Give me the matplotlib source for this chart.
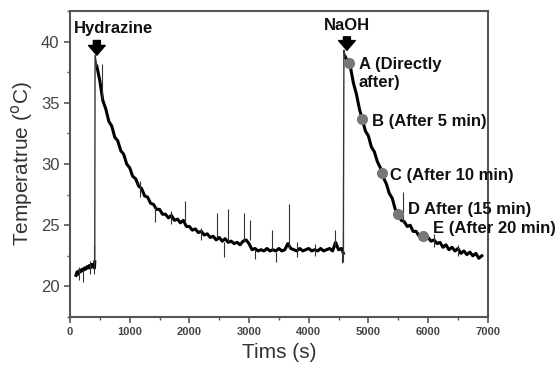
import matplotlib

matplotlib.use("Agg")
import matplotlib.pyplot as plt
from matplotlib.ticker import MultipleLocator

# baseline before hydrazine
t_pre = [100, 120, 140, 160, 180, 200, 220, 240, 260, 280, 300, 320, 340, 360, 380, 400, 410, 415]
T_pre = [20.9, 21.2, 21.0, 21.3, 21.2, 21.4, 21.3, 21.5, 21.4, 21.6, 21.5, 21.7, 21.5, 21.8, 21.6, 21.8, 21.5, 22.0]

# decay after hydrazine
t_hyd = [450, 500, 550, 600, 650, 700, 750, 800, 850, 900, 950, 1000, 1050, 1100, 1150, 1200,
         1250, 1300, 1350, 1400, 1450, 1500, 1550, 1600, 1650, 1700, 1750, 1800, 1850, 1900,
         1950, 2000, 2050, 2100, 2150, 2200, 2250, 2300, 2350, 2400, 2450, 2500, 2550, 2600,
         2650, 2700, 2750, 2800, 2850, 2900, 2950, 3000, 3050, 3100, 3150, 3200, 3250, 3300,
         3350, 3400, 3450, 3500, 3550, 3600, 3650, 3700, 3750, 3800, 3850, 3900, 3950, 4000,
         4050, 4100, 4150, 4200, 4250, 4300, 4350, 4400, 4450, 4500, 4550, 4580]
T_hyd = [38.0, 36.8, 35.2, 34.5, 33.5, 33.1, 32.2, 31.9, 31.1, 30.8, 30.0, 29.7, 29.0, 28.8, 28.2, 28.0,
         27.4, 27.3, 26.8, 26.7, 26.3, 26.3, 25.9, 25.9, 25.6, 25.8, 25.4, 25.5, 25.2, 25.4,
         24.9, 24.9, 24.6, 24.7, 24.4, 24.5, 24.2, 24.3, 24.0, 24.1, 23.8, 24.0, 23.7, 23.9,
         23.6, 23.7, 23.5, 23.6, 23.4, 23.7, 23.8, 23.5, 23.0, 23.1, 22.9, 23.0, 22.9, 23.1,
         22.9, 23.0, 22.9, 23.1, 22.9, 23.0, 23.5, 23.1, 23.0, 22.9, 23.1, 22.9, 23.0, 23.1,
         22.9, 23.0, 22.9, 23.1, 22.9, 23.0, 23.1, 22.9, 23.6, 23.0, 23.1, 22.7]

# decay after NaOH
t_naoh = [4610, 4650, 4700, 4750, 4800, 4850, 4900, 4950, 5000, 5050, 5100, 5150, 5200, 5250,
          5300, 5350, 5400, 5450, 5500, 5550, 5600, 5650, 5700, 5750, 5800, 5850, 5900, 5950,
          6000, 6050, 6100, 6150, 6200, 6250, 6300, 6350, 6400, 6450, 6500, 6550, 6600, 6650,
          6700, 6750, 6800, 6850, 6900]
T_naoh = [38.8, 38.4, 37.9, 36.6, 35.7, 34.5, 33.6, 32.7, 32.3, 31.4, 31.0, 30.2, 29.7, 28.9,
          28.4, 27.6, 27.2, 26.3, 26.0, 25.4, 25.3, 24.9, 25.0, 24.5, 24.5, 24.1, 24.3, 23.9,
          24.0, 23.7, 23.8, 23.5, 23.6, 23.2, 23.4, 23.0, 23.2, 22.9, 23.1, 22.7, 22.9, 22.6,
          22.8, 22.5, 22.7, 22.3, 22.5]

# the two sudden jumps (thin lines in the trace)
jump1_t = [415, 420, 450]
jump1_T = [22.0, 38.9, 38.0]
jump2_t = [4580, 4590, 4610]
jump2_T = [22.7, 39.3, 38.8]

# thin spikes in the trace
spike_t = [150, 220, 330, 410, 535, 1180, 1420, 1700, 1925, 2200, 2460, 2580, 2640, 2915, 3015, 3100,
           3385, 3450, 3670, 3800, 4100, 4440, 4560, 4575, 5580, 6100, 6500]
spike_lo = [20.5, 20.4, 21.0, 21.0, 35.3, 27.3, 25.3, 25.1, 25.2, 23.8, 24.0, 22.4, 23.7, 23.6, 23.8, 22.2,
            23.0, 22.0, 23.2, 22.4, 22.5, 23.2, 21.9, 22.0, 25.2, 23.2, 22.5]
spike_hi = [21.6, 21.3, 22.1, 23.4, 38.2, 28.6, 26.6, 26.2, 27.0, 24.8, 26.0, 23.6, 26.3, 26.0, 25.4, 23.0,
            24.6, 22.8, 26.7, 23.6, 23.5, 24.6, 23.0, 24.2, 27.7, 24.3, 23.4]

# sampling points
pt_t = [4675, 4890, 5225, 5495, 5915]
pt_T = [38.3, 33.7, 29.3, 25.9, 24.1]
pt_labels = ["A (Directly\nafter)", "B (After 5 min)", "C (After 10 min)", "D After (15 min)", "E (After 20 min)"]
lab_t = [4840, 5058, 5360, 5662, 6080]
lab_T = [37.4, 33.5, 29.1, 26.3, 24.7]

plt.rcParams["font.family"] = ["Liberation Sans", "DejaVu Sans"]

fig = plt.figure(figsize=(5.6, 3.65), dpi=100)
ax = fig.add_axes([0.125, 0.1315, 0.746, 0.838])

for t, T in [(t_pre, T_pre), (t_hyd, T_hyd), (t_naoh, T_naoh)]:
    ax.plot(t, T, color="black", lw=2.2, solid_joinstyle="round")
for t, T in [(jump1_t, jump1_T), (jump2_t, jump2_T)]:
    ax.plot(t, T, color="#333333", lw=1.0)
ax.vlines(spike_t, spike_lo, spike_hi, color="#333333", lw=0.8)

ax.plot(pt_t, pt_T, "o", color="#777777", ms=7, zorder=5)
for x, y, s in zip(lab_t, lab_T, pt_labels):
    ax.text(x, y, s, ha="left", va="center", fontsize=12, fontweight="bold", color="#111111")

# addition arrows
for x, y0, y1 in [(450, 40.1, 38.9), (4640, 40.4, 39.3)]:
    ax.annotate("", xy=(x, y1), xytext=(x, y0),
                arrowprops=dict(arrowstyle="simple,head_width=0.6,head_length=0.35,tail_width=0.25",
                                color="black", shrinkA=0, shrinkB=0, mutation_scale=20))
ax.text(67, 41.1, "Hydrazine", ha="left", va="center", fontsize=12, fontweight="bold", color="#111111")
ax.text(4640, 41.3, "NaOH", ha="center", va="center", fontsize=12, fontweight="bold", color="#111111")

ax.set_xlim(0, 7000)
ax.set_ylim(17.5, 42.5)
ax.xaxis.set_major_locator(MultipleLocator(1000))
ax.xaxis.set_minor_locator(MultipleLocator(500))
ax.yaxis.set_major_locator(MultipleLocator(5))
ax.yaxis.set_minor_locator(MultipleLocator(2.5))
ax.tick_params(which="major", direction="out", length=4, width=1.2, color="#555555")
ax.tick_params(which="minor", direction="out", length=2.5, width=1.0, color="#555555")
ax.tick_params(axis="x", labelsize=8, labelcolor="#444444")
ax.tick_params(axis="y", labelsize=12, labelcolor="#444444")
for lab in ax.get_xticklabels():
    lab.set_fontweight("bold")
for sp in ax.spines.values():
    sp.set_color("#555555")
    sp.set_linewidth(1.5)

ax.set_xlabel("Tims (s)", fontsize=15, color="#333333", labelpad=4)
ax.set_ylabel("Temperatrue ($^{\\mathrm{o}}$C)", fontsize=15, color="#333333", labelpad=4)

fig.savefig("out.png", dpi=100)
